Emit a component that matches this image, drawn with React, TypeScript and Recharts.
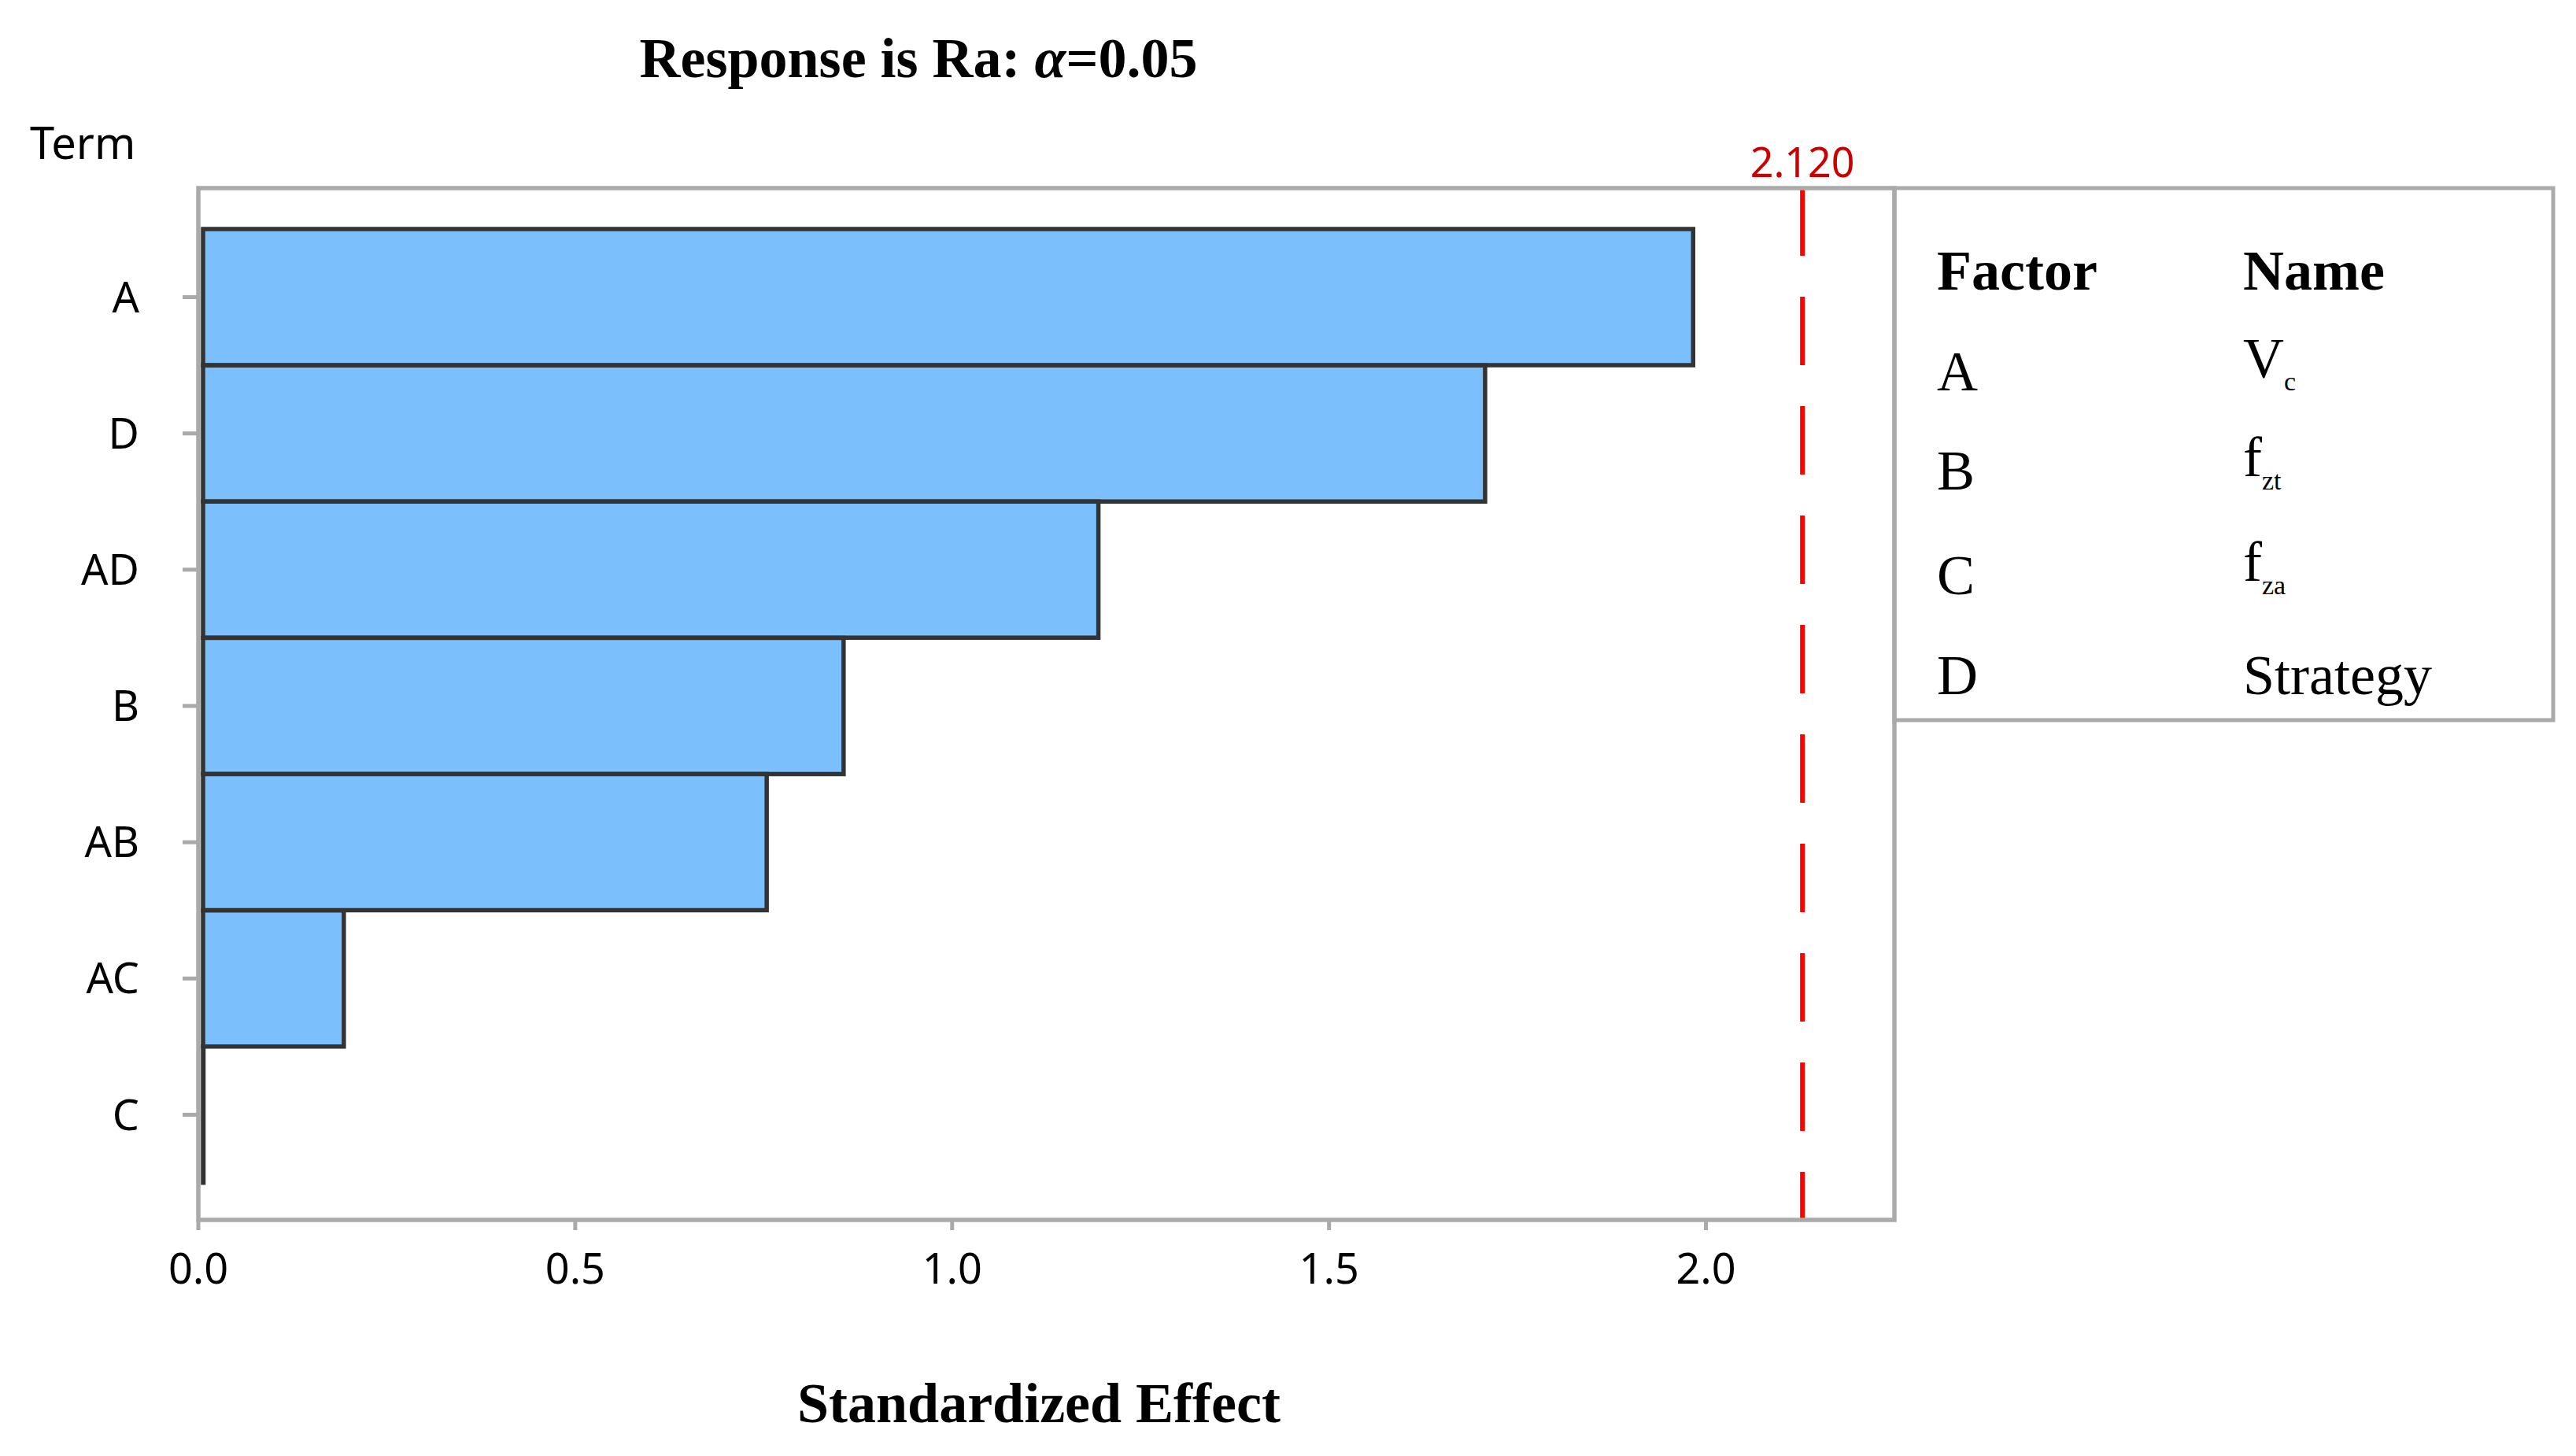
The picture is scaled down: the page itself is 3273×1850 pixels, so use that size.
import { BarChart, Bar, XAxis, YAxis, ReferenceLine, Rectangle } from 'recharts';

const TERMS = ['A', 'D', 'AD', 'B', 'AB', 'AC', 'C'];
const EFFECTS = [1.983, 1.707, 1.194, 0.856, 0.754, 0.193, 0.0005];
const X_TICKS = [0, 0.5, 1, 1.5, 2];
const CRITICAL = 2.128;
const CRITICAL_LABEL = '2.120';

const FACTORS = ['A', 'B', 'C', 'D'];
const NAMES = ['V', 'f', 'f', 'Strategy'];
const NAME_SUBS = ['c', 'zt', 'za', ''];

const data = TERMS.map((term, i) => ({ term, effect: EFFECTS[i] }));

const GRAY = '#aaaaaa';
const SERIF = '"Liberation Serif", "Times New Roman", serif';
const SANS = '"Noto Sans", "Open Sans", sans-serif';

const ROW_Y = [496, 622, 755, 882];

// bars start just right of the frame line, like minitab draws them
const BarShape = (props: any) => (
    <Rectangle {...props} x={props.x + 6} width={Math.max(props.width - 6, 0.5)} />
);

export default function App() {
    return (
        <div style={{ position: 'absolute', left: 0, top: 0, width: 3273, height: 1850, background: '#fff' }}>
            <BarChart
                width={3273}
                height={1850}
                data={data}
                layout="vertical"
                barCategoryGap={0}
                margin={{ top: 239, right: 866, bottom: 200, left: 52 }}
            >
                <XAxis
                    type="number"
                    domain={[0, 2.25]}
                    ticks={X_TICKS}
                    tickFormatter={(v: number) => v.toFixed(1)}
                    height={100}
                    tickSize={13}
                    tickMargin={30}
                    axisLine={false}
                    tickLine={{ stroke: GRAY, strokeWidth: 5 }}
                    tick={{ fontSize: 54, fill: '#000', fontFamily: SANS }}
                />
                <YAxis
                    dataKey="term"
                    type="category"
                    width={200}
                    padding={{ top: 52, bottom: 47 }}
                    tickSize={20}
                    tickMargin={55}
                    axisLine={false}
                    tickLine={{ stroke: GRAY, strokeWidth: 5 }}
                    tick={{ fontSize: 54, fill: '#000', fontFamily: SANS }}
                />
                <Bar
                    dataKey="effect"
                    fill="#7bbffc"
                    stroke="#333333"
                    strokeWidth={5.5}
                    shape={BarShape}
                    isAnimationActive={false}
                />
                <ReferenceLine
                    x={CRITICAL}
                    stroke="#ff0000"
                    strokeWidth={6}
                    strokeDasharray="87 52"
                    strokeDashoffset={26}
                    label={{ value: CRITICAL_LABEL, position: 'top', offset: 14, fill: '#cc0000', fontSize: 52, fontFamily: SANS }}
                />
            </BarChart>

            <svg
                width={3273}
                height={1850}
                style={{ position: 'absolute', left: 0, top: 0, pointerEvents: 'none' }}
            >
                {/* plot frame */}
                <rect x={252} y={239} width={2155} height={1311} fill="none" stroke={GRAY} strokeWidth={5.5} />

                <text x={1167} y={98} textAnchor="middle" fontFamily={SERIF} fontWeight="bold" fontSize={72} fill="#000">
                    Response is Ra: <tspan fontStyle="italic">α</tspan>=0.05
                </text>
                <text x={38} y={202} fontFamily={SANS} fontSize={56} fill="#000">Term</text>
                <text x={1320} y={1807} textAnchor="middle" fontFamily={SERIF} fontWeight="bold" fontSize={72} fill="#000">
                    Standardized Effect
                </text>

                {/* factor table */}
                <rect x={2407} y={239} width={837} height={676} fill="none" stroke={GRAY} strokeWidth={5} />
                <text x={2461} y={368} fontFamily={SERIF} fontWeight="bold" fontSize={72} fill="#000">Factor</text>
                <text x={2850} y={368} fontFamily={SERIF} fontWeight="bold" fontSize={72} fill="#000">Name</text>
                {FACTORS.map((f, i) => (
                    <text key={f} x={2461} y={ROW_Y[i]} fontFamily={SERIF} fontSize={72} fill="#000">{f}</text>
                ))}
                {NAMES.map((n, i) =>
                    NAME_SUBS[i] ? (
                        <text key={i} x={2850} y={ROW_Y[i] - 17} fontFamily={SERIF} fontSize={72} fill="#000">
                            {n}
                            <tspan dy={17} fontSize={34}>{NAME_SUBS[i]}</tspan>
                        </text>
                    ) : (
                        <text key={i} x={2850} y={ROW_Y[i]} fontFamily={SERIF} fontSize={72} fill="#000">{n}</text>
                    )
                )}
            </svg>
        </div>
    );
}
